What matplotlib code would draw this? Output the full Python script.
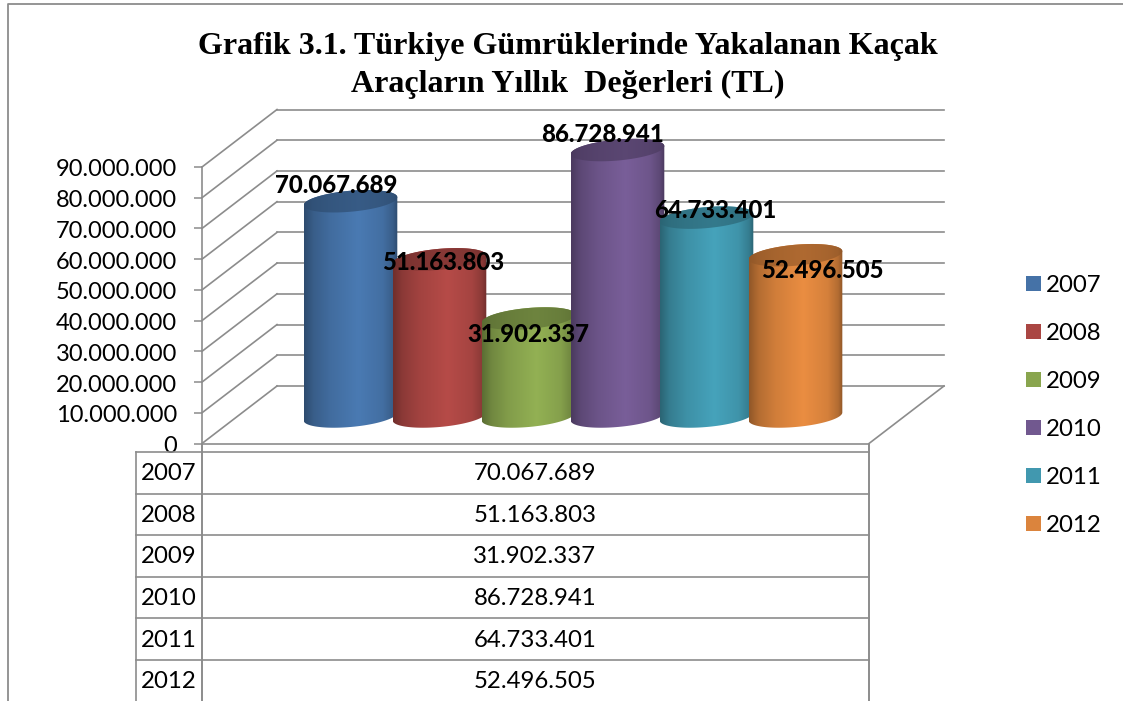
import numpy as np
import matplotlib
matplotlib.use("Agg")
import matplotlib.pyplot as plt
from matplotlib.patches import Patch, PathPatch
from matplotlib.path import Path
from matplotlib.transforms import Affine2D

years = ["2007", "2008", "2009", "2010", "2011", "2012"]
values = [70067689, 51163803, 31902337, 86728941, 64733401, 52496505]
ticks = [0, 10000000, 20000000, 30000000, 40000000, 50000000, 60000000, 70000000, 80000000, 90000000]
title = "Grafik 3.1. Türkiye Gümrüklerinde Yakalanan Kaçak\nAraçların Yıllık  Değerleri (TL)"
colors = ["#4572A7", "#AA4643", "#89A54E", "#71588F", "#4198AF", "#DB843D"]
# label shift from the top of each bar, in pixels
label_shift = [(-14.5, 16), (3.5, -3), (0, -16), (-15.5, 16), (8.5, 7), (26.5, -15)]

W, H = 1123, 701
GRID = "#8c8c8c"
FONT = "Lato"
SIZE = 17.3
plt.rcParams["font.family"] = FONT


def fmt(v):
    return f"{v:,}".replace(",", ".")


def box(left, top, right, bottom):
    return [left / W, 1 - bottom / H, (right - left) / W, (bottom - top) / H]


fig = plt.figure(figsize=(W / 100, H / 100), dpi=100, facecolor="white")

# chart frame, top and left only reach the picture
fig.add_artist(plt.Line2D([8 / W, 8 / W, 1], [0, 1 - 4 / H, 1 - 4 / H], color=GRID, lw=1.3))

fig.text(568 / W, 1 - 65.5 / H, title, ha="center", va="center", family="Liberation Serif",
         weight="bold", fontsize=23, linespacing=1.36, color="black")

# front plane of the 3d box
ax = fig.add_axes(box(202, 167, 869, 443.5))
ax.patch.set_alpha(0)
ax.set_autoscale_on(False)
xlim = (-1.247, 6.247)
ylim = (0, 90000000)
ax.set_xlim(xlim)
ax.set_ylim(ylim)
ax.set_xticks([])
ax.set_yticks(ticks)
ax.set_yticklabels([fmt(t) for t in ticks], fontsize=17.0)
ax.tick_params(axis="y", length=5.8, width=1.1, color=GRID, pad=12)
for lab in ax.get_yticklabels():
    lab.set_transform(lab.get_transform() + Affine2D().translate(0, -1))
for s in ["top", "right"]:
    ax.spines[s].set_visible(False)
for s in ["left", "bottom"]:
    ax.spines[s].set_color(GRID)
    ax.spines[s].set_linewidth(1.2)

back = ax.transData + Affine2D().translate(75, 57.5)
mid = ax.transData + Affine2D().translate(37.5, 27)

# back wall and left wall
for t in ticks:
    ax.plot(xlim, [t, t], transform=back, color=GRID, lw=1.2, clip_on=False, zorder=1)
    ax.plot([xlim[0], xlim[0] + 75 / 89], [t, t + 57.5 * 90000000 / 276.5], color=GRID, lw=1.2,
            clip_on=False, zorder=1)
# floor right side
ax.plot([xlim[1], xlim[1] + 75 / 89], [0, 57.5 * 90000000 / 276.5], color=GRID, lw=1.2,
        clip_on=False, zorder=1)

# cylinders, size of the ellipse in data units
a = 46.8 / 89
b = 10.5 * 90000000 / 276.5
s = 4.0 * 90000000 / 276.5
shade_pos = [0, 0.1, 0.28, 0.58, 0.84, 0.95, 1]
shade_val = [0.66, 0.82, 0.95, 1.07, 0.97, 0.82, 0.66]
top_val = [0.66, 0.72, 0.76, 0.80, 0.76, 0.72, 0.66]


def shaded(rgb, vals):
    p = np.linspace(0, 1, 200)
    f = np.interp(p, shade_pos, vals)
    return np.clip(np.outer(f, rgb), 0, 1)[None, :, :]


for i, (v, c) in enumerate(zip(values, colors)):
    rgb = np.array(matplotlib.colors.to_rgb(c))
    t = np.linspace(np.pi, 2 * np.pi, 60)
    low_x = i + a * np.cos(t)
    low_y = b * np.sin(t) + s * np.cos(t)
    t2 = np.linspace(0, np.pi, 60)
    up_x = i + a * np.cos(t2)
    up_y = v + b * np.sin(t2) + s * np.cos(t2)
    body = Path(np.column_stack([np.r_[low_x, up_x], np.r_[low_y, up_y]]))
    body = Path(np.vstack([body.vertices, body.vertices[:1]]), closed=True)
    im = ax.imshow(shaded(rgb, shade_val), extent=[i - a, i + a, -b - s, v + b + s], aspect="auto",
                   transform=mid, interpolation="bilinear", zorder=2 + i)
    im.set_clip_box(fig.bbox)
    im.set_clip_path(PathPatch(body, transform=mid))

    t3 = np.linspace(0, 2 * np.pi, 120)
    cap = Path(np.column_stack([i + a * np.cos(t3), v + b * np.sin(t3) + s * np.cos(t3)]), closed=True)
    im2 = ax.imshow(shaded(rgb, top_val), extent=[i - a, i + a, v - b - s, v + b + s], aspect="auto",
                    transform=mid, interpolation="bilinear", zorder=2 + i + 0.5)
    im2.set_clip_box(fig.bbox)
    im2.set_clip_path(PathPatch(cap, transform=mid))

    ax.annotate(fmt(v), xy=(i, v), xycoords=mid, xytext=label_shift[i], textcoords="offset pixels",
                ha="center", va="center", fontsize=SIZE, weight="black", color="black", zorder=20,
                annotation_clip=False)

ax.set_xlim(xlim)
ax.set_ylim(ylim)

# data table under the chart
tab = fig.add_axes(box(136, 452, 869, 701))
tab.set_xlim(136, 869)
tab.set_ylim(249 / 41.6, 0)
tab.axis("off")
for r in range(6):
    tab.plot([136, 869], [r, r], color=GRID, lw=1.2, clip_on=False)
    tab.text(168.5, r + 0.52, years[r], ha="center", va="center", fontsize=SIZE)
    tab.text(535, r + 0.52, fmt(values[r]), ha="center", va="center", fontsize=SIZE)
tab.plot([136, 136], [0, 6], color=GRID, lw=1.2, clip_on=False)
tab.plot([202, 202], [-0.2, 6], color=GRID, lw=1.4, clip_on=False)
tab.plot([868.5, 868.5], [-0.2, 6], color=GRID, lw=1.4, clip_on=False)

handles = [Patch(facecolor=c, edgecolor="none", label=y) for c, y in zip(colors, years)]
fig.legend(handles=handles, loc="upper left", bbox_to_anchor=(1014 / W, 1 - 263 / H), frameon=False,
           fontsize=SIZE, handlelength=0.62, handleheight=0.62, handletextpad=0.2, labelspacing=1.125,
           borderpad=0.5, borderaxespad=0)

fig.savefig("out.png", dpi=100)
